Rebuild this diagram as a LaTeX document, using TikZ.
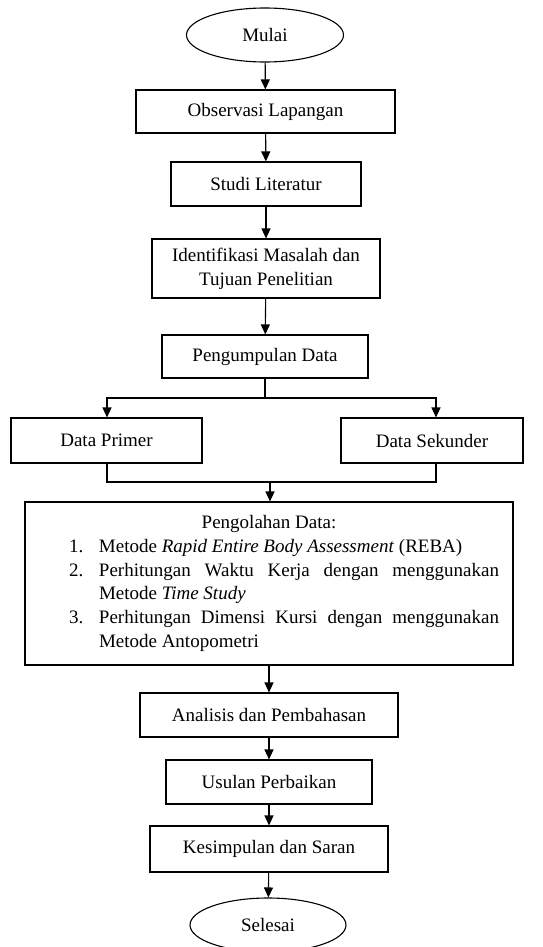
\documentclass[tikz,border=0pt]{standalone}
\usepackage{fontspec}
\setmainfont{Liberation Serif}
\usetikzlibrary{arrows.meta,shapes.geometric}
\begin{document}
\begin{tikzpicture}[x=1pt,y=-1pt,
  box/.style={draw, rectangle, line width=1.1pt, inner sep=0pt, align=center},
  term/.style={draw, ellipse, line width=1.1pt, inner sep=0pt},
  arr/.style={line width=1.1pt, -{Triangle[length=10pt,width=9pt]}},
  ln/.style={line width=1.1pt},
  font=\fontsize{19}{23.7}\selectfont]
\useasboundingbox (0,0) rectangle (543,947);
\node[term, minimum width=157pt, minimum height=54pt] (mulai) at (265,35) {Mulai};
\node[box, minimum width=259pt, minimum height=43pt] (obs) at (265.5,111.5) {Observasi Lapangan};
\node[box, minimum width=190pt, minimum height=44pt] (studi) at (266,184) {Studi Literatur};
\node[box, minimum width=228pt, minimum height=59pt] (ident) at (266,268.5) {Identifikasi Masalah dan\\Tujuan Penelitian};
\node[box, minimum width=206pt, minimum height=43pt] (kumpul) at (265,356.5) {Pengumpulan Data};
\node[box, minimum width=191pt, minimum height=45pt] (primer) at (106.5,440.5) {Data Primer};
\node[box, minimum width=182pt, minimum height=45pt] (sekunder) at (432,440.5) {Data Sekunder};
\node[box, minimum height=163pt, inner xsep=14pt, text width=460pt, align=justify] (olah) at (269,583.5) {%
  \parindent=0pt
  {\centering Pengolahan Data:\par}
  \leftskip=30pt
  \hangindent=30pt\hangafter=1\makebox[30pt][l]{1.}Metode \textit{Rapid Entire Body Assessment} (REBA)\par
  \hangindent=30pt\hangafter=1\makebox[30pt][l]{2.}Perhitungan Waktu Kerja dengan menggunakan\linebreak Metode \textit{Time Study}\par
  \hangindent=30pt\hangafter=1\makebox[30pt][l]{3.}Perhitungan Dimensi Kursi dengan menggunakan\linebreak Metode Antopometri\par};
\node[box, minimum width=258pt, minimum height=44pt] (analisis) at (269,715) {Analisis dan Pembahasan};
\node[box, minimum width=206pt, minimum height=44pt] (usulan) at (269,782) {Usulan Perbaikan};
\node[box, minimum width=238pt, minimum height=46pt] (simpul) at (269,849) {Kesimpulan dan Saran};
\node[term, minimum width=156pt, minimum height=54pt] (selesai) at (268,925) {Selesai};

\draw[arr] (mulai) -- (obs);
\draw[arr] (obs) -- (studi);
\draw[arr] (studi) -- (ident);
\draw[arr] (ident) -- (kumpul);
\coordinate (split) at (265,398);
\coordinate (merge) at (270,482);
\draw[ln] (kumpul.south) -- (split);
\draw[arr] (split) -| ([xshift=0.5pt]primer.north);
\draw[arr] (split) -| ([xshift=4pt]sekunder.north);
\draw[ln] ([xshift=0.5pt]primer.south) |- (merge) -| ([xshift=4pt]sekunder.south);
\draw[arr] (merge) -- (olah.north -| merge);
\draw[arr] (olah) -- (analisis);
\draw[arr] (analisis) -- (usulan);
\draw[arr] (usulan) -- (simpul);
\draw[arr] (simpul) -- (selesai);
\end{tikzpicture}
\end{document}
